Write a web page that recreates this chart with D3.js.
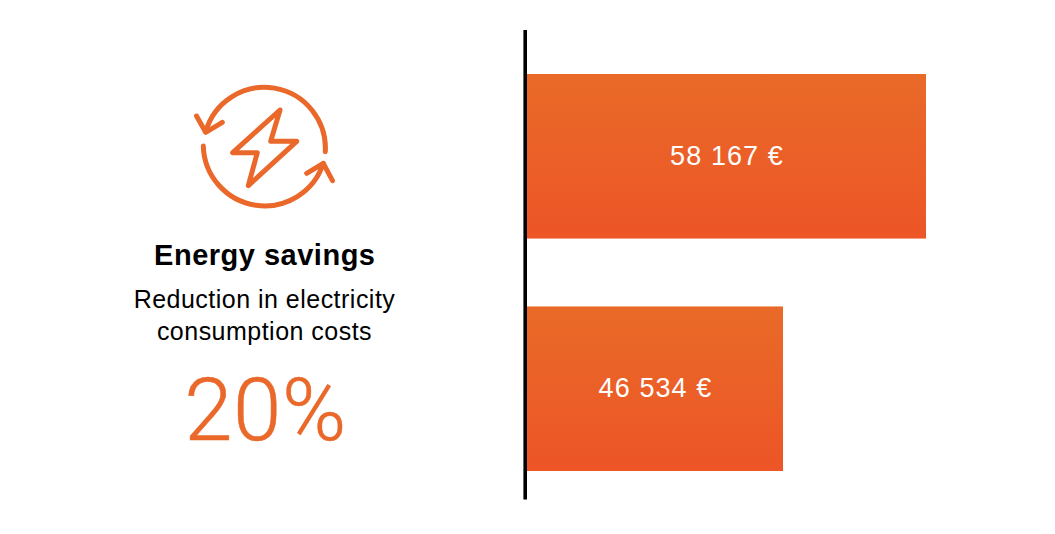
<!DOCTYPE html>
<html>
<head>
<meta charset="utf-8">
<script src="https://d3js.org/d3.v7.min.js"></script>
<style>
html, body { margin: 0; padding: 0; background: #fff; }
text { font-family: "Liberation Sans", Arial, sans-serif; }
</style>
</head>
<body>
<script>
// data
var periods = ["before", "after"];
var costs = [58167, 46534];
var costLabels = ["58 167 €", "46 534 €"];
var reduction = "20%";

var width = 1055, height = 534;
var orange = "#e9682a";

var svg = d3.select("body").append("svg")
	.attr("width", width)
	.attr("height", height)
	.style("display", "block");

// bars are not zero based in the original, bar 2 is much shorter than 80% of bar 1
var xScale = d3.scaleLinear().domain([25708, 58167]).range([527, 926]);
var yScale = d3.scaleBand().domain(periods).range([74, 471]).paddingInner(0.292);

var grad = svg.append("defs").append("linearGradient")
	.attr("id", "barFill")
	.attr("x1", 0).attr("y1", 0).attr("x2", 0).attr("y2", 1);
grad.append("stop").attr("offset", "0%").attr("stop-color", "#e96a28");
grad.append("stop").attr("offset", "100%").attr("stop-color", "#ed5527");

svg.selectAll("rect.bar")
	.data(costs)
	.enter().append("rect")
	.attr("class", "bar")
	.attr("x", xScale.range()[0])
	.attr("y", function(d, i) { return yScale(periods[i]); })
	.attr("width", function(d) { return xScale(d) - xScale.range()[0]; })
	.attr("height", yScale.bandwidth())
	.attr("fill", "url(#barFill)");

svg.selectAll("text.value")
	.data(costs)
	.enter().append("text")
	.attr("class", "value")
	.attr("x", function(d) { return (xScale.range()[0] + xScale(d)) / 2 + 0.5; })
	.attr("y", function(d, i) { return yScale(periods[i]) + yScale.bandwidth() / 2 + 9 - i * 0.7; })
	.attr("text-anchor", "middle")
	.attr("fill", "#fff")
	.style("font-size", "27px")
	.style("letter-spacing", "1.1px")
	.text(function(d, i) { return costLabels[i]; });

// vertical axis line
svg.append("line")
	.attr("x1", 525.2).attr("x2", 525.2)
	.attr("y1", 30).attr("y2", 499.5)
	.attr("stroke", "#000")
	.attr("stroke-width", 3.6);

// icon
var icon = svg.append("g")
	.attr("fill", "none")
	.attr("stroke", orange)
	.attr("stroke-width", 5)
	.attr("stroke-linecap", "round")
	.attr("stroke-linejoin", "round");
icon.append("path").attr("d", "M205.7,131.7 A61,61 0 0 1 325.3,151.7");
icon.append("path").attr("d", "M203.3,146 A61.5,61.5 0 0 0 323.3,163.3");
icon.append("path").attr("d", "M196.5,116 L205.7,132.3 L222.3,122.3");
icon.append("path").attr("d", "M306.7,173.3 L323.3,163.3 L332.5,180.7");
icon.append("path").attr("d", "M280,110 L232.7,152.7 L257.3,152.7 L248.3,185.7 L296.7,141.3 L270.7,141.3 Z");

// left text
svg.append("text")
	.attr("x", 264.8).attr("y", 265)
	.attr("text-anchor", "middle")
	.attr("fill", "#000")
	.style("font-size", "29px")
	.style("font-weight", "bold")
	.style("letter-spacing", "0.5px")
	.text("Energy savings");

svg.append("text")
	.attr("x", 264.5).attr("y", 308)
	.attr("text-anchor", "middle")
	.attr("fill", "#000")
	.style("font-size", "25px")
	.style("letter-spacing", "0.48px")
	.text("Reduction in electricity");

svg.append("text")
	.attr("x", 264.5).attr("y", 340)
	.attr("text-anchor", "middle")
	.attr("fill", "#000")
	.style("font-size", "25px")
	.style("letter-spacing", "0.48px")
	.text("consumption costs");

// thin face like the original
svg.append("text")
	.attr("x", 265.5).attr("y", 439.5)
	.attr("text-anchor", "middle")
	.attr("fill", orange)
	.style("font-family", "Roboto, sans-serif")
	.style("font-weight", 300)
	.style("font-size", "87px")
	.style("letter-spacing", "0.6px")
	.style("stroke", orange)
	.style("stroke-width", "0.5px")
	.text(reduction);
</script>
</body>
</html>
